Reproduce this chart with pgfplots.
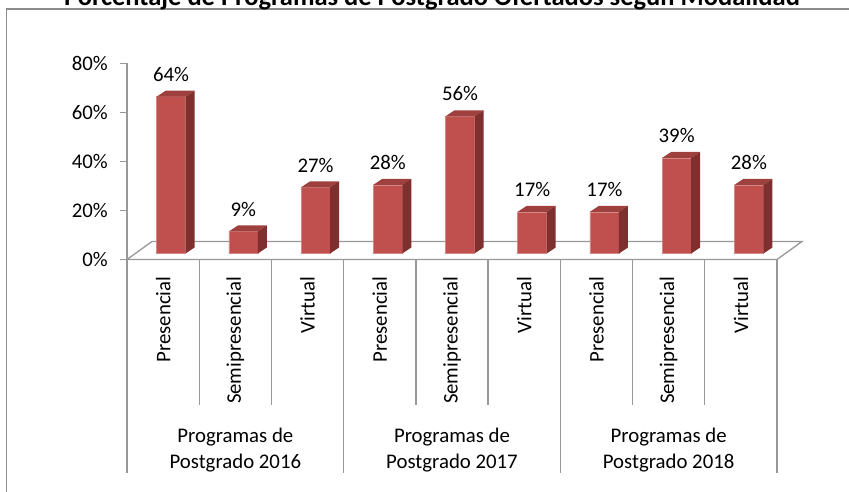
\documentclass[border=0pt]{standalone}
\usepackage{pgfplots}
\pgfplotsset{compat=1.18}
\usepackage{pgfplotstable}
\usepackage{fontspec}
\setmainfont{Carlito}
\definecolor{barfront}{HTML}{C0504D}
\definecolor{bartop}{HTML}{9E413E}
\definecolor{barside}{HTML}{7F2F2E}
\definecolor{baredge}{HTML}{D68886}
\definecolor{gridgray}{HTML}{989898}
\definecolor{framegray}{HTML}{8C8C8C}

\tikzset{
  vlabel/.style={anchor=base, inner sep=0pt, font=\fontsize{20.8}{25}\selectfont, text=black},
  glabel/.style={align=center, font=\fontsize{20.8}{26}\selectfont, inner sep=0pt},
  gline/.style={gridgray, line width=1.3pt},
}

\pgfplotstableread{
x v
0.5 64
1.5 9
2.5 27
3.5 28
4.5 56
5.5 17
6.5 17
7.5 39
8.5 28
}\datatable

\begin{document}
\begin{tikzpicture}[x=1pt,y=1pt]
\path[use as bounding box] (0,0) rectangle (849,492);
\begin{scope}
\clip (0,0) rectangle (849,492);
\draw[framegray, line width=1.3pt] (6.5,-10) -- (6.5,483) -- (860,483);
\node[font=\fontsize{26.5}{30}\selectfont\bfseries, anchor=base, inner sep=0pt] at (432,486) {Porcentaje de Programas de Postgrado Ofertados según Modalidad};
\end{scope}

% axis A: y axis, floor, categories
\begin{axis}[
  scale only axis, width=650pt, height=196pt,
  at={(127pt,232.5pt)}, anchor=south west,
  xmin=0, xmax=9, ymin=0, ymax=80,
  clip=false,
  /pgf/number format/assume math mode=true,
  axis y line*=left, axis x line*=bottom,
  x axis line style={draw=none},
  y axis line style={gridgray, line width=1.3pt, -},
  ytick={0,20,40,60,80},
  yticklabel={\pgfmathprintnumber{\tick}\%},
  yticklabel style={font=\fontsize{20.8}{25}\selectfont, inner sep=0pt, xshift=-12pt},
  ytick style={gridgray, line width=1.3pt},
  tick align=outside, major tick length=7pt,
  xtick={0.5,1.5,2.5,3.5,4.5,5.5,6.5,7.5,8.5},
  xtick style={draw=none},
  xticklabels={Presencial,Semipresencial,Virtual,Presencial,Semipresencial,Virtual,Presencial,Semipresencial,Virtual},
  xticklabel style={rotate=90, anchor=east, inner sep=0pt, font=\fontsize{20.8}{25}\selectfont},
  xticklabel shift=10pt,
]
\draw[gline] (axis cs:0,0) -- ++(25pt,18pt) -- ([shift={(25pt,18pt)}]axis cs:9,0) -- (axis cs:9,0) -- cycle;
\draw[gline] (axis cs:1,0) -- ++(0,-145.5pt);
\draw[gline] (axis cs:2,0) -- ++(0,-145.5pt);
\draw[gline] (axis cs:4,0) -- ++(0,-145.5pt);
\draw[gline] (axis cs:5,0) -- ++(0,-145.5pt);
\draw[gline] (axis cs:7,0) -- ++(0,-145.5pt);
\draw[gline] (axis cs:8,0) -- ++(0,-145.5pt);
\draw[gline] (axis cs:0,0) -- ++(0,-213.5pt);
\draw[gline] (axis cs:3,0) -- ++(0,-213.5pt);
\draw[gline] (axis cs:6,0) -- ++(0,-213.5pt);
\draw[gline] (axis cs:9,0) -- ++(0,-213.5pt);
\node[glabel] at ([yshift=-190.5pt]axis cs:1.5,0) {Programas de\\Postgrado 2016};
\node[glabel] at ([yshift=-190.5pt]axis cs:4.5,0) {Programas de\\Postgrado 2017};
\node[glabel] at ([yshift=-190.5pt]axis cs:7.5,0) {Programas de\\Postgrado 2018};
\end{axis}

% axis B: bars
\begin{axis}[
  scale only axis, width=650pt, height=196pt,
  at={(135pt,238.5pt)}, anchor=south west,
  xmin=0, xmax=9, ymin=0, ymax=80,
  hide axis, clip=false,
]
\addplot[ybar, bar width=29pt, bar shift=0pt, fill=barfront, draw=baredge, line width=0.5pt] table[x=x,y=v]{\datatable};
\pgfplotsinvokeforeach{0,...,8}{
  \pgfplotstablegetelem{#1}{x}\of\datatable \let\bx\pgfplotsretval
  \pgfplotstablegetelem{#1}{v}\of\datatable \let\bv\pgfplotsretval
  \edef\doit{%
    \noexpand\fill[bartop] ([xshift=-14.5pt]axis cs:\bx,\bv) -- ([xshift=14.5pt]axis cs:\bx,\bv) -- ([xshift=23.5pt,yshift=6pt]axis cs:\bx,\bv) -- ([xshift=-5.5pt,yshift=6pt]axis cs:\bx,\bv) -- cycle;
    \noexpand\fill[barside] ([xshift=14.5pt]axis cs:\bx,0) -- ([xshift=23.5pt,yshift=6pt]axis cs:\bx,0) -- ([xshift=23.5pt,yshift=6pt]axis cs:\bx,\bv) -- ([xshift=14.5pt]axis cs:\bx,\bv) -- cycle;
    \noexpand\node[vlabel] at ([yshift=15.3pt]axis cs:\bx,\bv) {\bv\noexpand\%};
  }%
  \doit
}
\end{axis}
\end{tikzpicture}
\end{document}
